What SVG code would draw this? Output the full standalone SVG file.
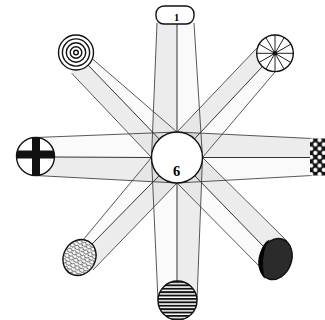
<svg xmlns="http://www.w3.org/2000/svg" width="325" height="320" viewBox="0 0 325 320">
<style>
.edge{stroke:#3a3a3a;stroke-width:0.85;fill:none}
.axis{stroke:#333;stroke-width:1;fill:none}
.sh{fill:#000;fill-opacity:0.075}
.lt{fill:#000;fill-opacity:0.018}
.node{stroke:#111;stroke-width:1.4}
.lbl{font-family:"Liberation Serif",serif;text-anchor:middle}
</style>
<defs>
<pattern id="stripes" width="4" height="3.4" patternUnits="userSpaceOnUse" y="281"><rect width="4" height="1.9" fill="#111"/></pattern>
<pattern id="dots" width="8.5" height="8.5" patternUnits="userSpaceOnUse" x="309" y="138"><rect width="8.5" height="8.5" fill="#111"/><circle cx="2.1" cy="2.1" r="2.1" fill="#fff"/><circle cx="6.35" cy="6.35" r="2.1" fill="#fff"/></pattern>
<pattern id="scales" width="5" height="6" patternUnits="userSpaceOnUse"><rect width="5" height="6" fill="#fff"/><path d="M0,3 Q2.5,0 5,3 M-2.5,6 Q0,3 2.5,6 M2.5,6 Q5,3 7.5,6" stroke="#111" stroke-width="0.8" fill="none"/></pattern>
<clipPath id="crossClip"><circle cx="35.5" cy="156.5" r="19"/></clipPath>
<clipPath id="wheelClip"><circle cx="275" cy="53.3" r="18.3"/></clipPath>
</defs>

<g id="connectors">
<polygon class="sh" points="157,23 177,23 177,157.5 151.5,157.5"/>
<polygon class="lt" points="194,23 177,23 177,157.5 202.5,157.5"/>
<polygon class="sh" points="197,300.5 177.5,300.5 177,157.5 202.5,157.5"/>
<polygon class="lt" points="158,300.5 177.5,300.5 177,157.5 151.5,157.5"/>
<polygon class="sh" points="35.5,175.5 35.5,156.5 177,157.5 177,183"/>
<polygon class="lt" points="35.5,137.5 35.5,156.5 177,157.5 177,132"/>
<polygon class="sh" points="312,138.5 312,157.5 177,157.5 177,132"/>
<polygon class="lt" points="312,175.5 312,157.5 177,157.5 177,183"/>
<polygon class="sh" points="71.7,73.3 76,52.5 177,157.5 151.5,157.5"/>
<polygon class="lt" points="91.7,58.3 76,52.5 177,157.5 177,132"/>
<polygon class="sh" points="256.7,48.3 275,53.3 177,157.5 177,132"/>
<polygon class="lt" points="276.7,70 275,53.3 177,157.5 202.5,157.5"/>
<polygon class="sh" points="93,270 79.5,257.5 177,157.5 177,183"/>
<polygon class="lt" points="83,240 79.5,257.5 177,157.5 151.5,157.5"/>
<polygon class="sh" points="287,241 275.5,259 177,157.5 202.5,157.5"/>
<polygon class="lt" points="264,271 275.5,259 177,157.5 177,183"/>
<path class="edge" d="M157,23 L151.5,157.5 M194,23 L202.5,157.5"/>
<path class="edge" d="M158,300.5 L151.5,157.5 M197,300.5 L202.5,157.5"/>
<path class="edge" d="M35.5,137.5 L177,132 M35.5,175.5 L177,183"/>
<path class="edge" d="M312,138.5 L177,132 M312,175.5 L177,183"/>
<path class="edge" d="M71.7,73.3 L151.5,157.5 M91.7,58.3 L177,132"/>
<path class="edge" d="M256.7,48.3 L177,132 M276.7,70 L202.5,157.5"/>
<path class="edge" d="M93,270 L177,183 M83,240 L151.5,157.5"/>
<path class="edge" d="M287,241 L202.5,157.5 M264,271 L177,183"/>
<path class="axis" d="M177,22 L177,132 M177,281 L177,183 M54.5,157 L151.5,157.5 M202.5,157.5 L312,157.5"/>
<path class="axis" d="M88.1,65.1 L159.3,139.1 M262.4,66.6 L194.5,138.9 M91,245 L159.1,175.7 M263.5,246.5 L194.8,175.8"/>
</g>

<g id="center">
<circle class="node" cx="177" cy="157.5" r="25.5" fill="#fff"/>
<text class="lbl" x="176.5" y="175.5" font-size="14.5" font-weight="bold" fill="#000">6</text>
</g>

<g id="node-top">
<rect class="node" x="156" y="6" width="38" height="18" rx="8" fill="#fff"/>
<text class="lbl" x="176.7" y="20.7" font-size="10.5" font-weight="bold" fill="#000">1</text>
</g>

<g id="node-topleft">
<circle class="node" cx="76" cy="52.5" r="17.5" fill="#fff"/>
<circle class="node" cx="76" cy="52.5" r="13.6" fill="none" stroke-width="1.2"/>
<circle class="node" cx="76" cy="52.5" r="9.7" fill="none" stroke-width="1.2"/>
<circle class="node" cx="76" cy="52.5" r="5.8" fill="none" stroke-width="1.2"/>
<circle class="node" cx="76" cy="52.5" r="2.3" fill="none" stroke-width="1.1"/>
</g>

<g id="node-topright">
<circle cx="275" cy="53.3" r="18.3" fill="#fff"/>
<g clip-path="url(#wheelClip)" stroke="#222" stroke-width="1">
<line x1="255" y1="53.3" x2="295" y2="53.3"/>
<line x1="275" y1="33" x2="275" y2="74"/>
<line x1="257.7" y1="43.3" x2="292.3" y2="63.3"/>
<line x1="257.7" y1="63.3" x2="292.3" y2="43.3"/>
<line x1="265" y1="36" x2="285" y2="70.6"/>
<line x1="265" y1="70.6" x2="285" y2="36"/>
</g>
<circle class="node" cx="275" cy="53.3" r="18.3" fill="none"/>
<circle cx="275" cy="53.3" r="2.3" fill="#111"/>
</g>

<g id="node-left">
<circle cx="35.5" cy="156.5" r="19" fill="#fff"/>
<g clip-path="url(#crossClip)" fill="#111">
<rect x="16" y="150.5" width="39" height="8"/>
<rect x="32" y="137" width="8" height="39"/>
</g>
<circle class="node" cx="35.5" cy="156.5" r="19" fill="none"/>
</g>

<g id="node-right">
<rect x="310" y="138.5" width="16" height="37" fill="url(#dots)"/>
</g>

<g id="node-bottomleft">
<ellipse class="node" cx="79.5" cy="257.5" rx="16" ry="18.5" transform="rotate(28 79.5 257.5)" fill="url(#scales)"/>
</g>

<g id="node-bottom">
<circle cx="177.5" cy="300.5" r="19.5" fill="#fff"/>
<circle class="node" cx="177.5" cy="300.5" r="19.5" fill="url(#stripes)"/>
</g>

<g id="node-bottomright">
<ellipse class="node" cx="275.5" cy="259" rx="16" ry="21" transform="rotate(20 275.5 259)" fill="#2b2b2b"/>
<path d="M270,239.5 C258,244 256,270 265,279 C262,268 262,248 270,239.5 Z" fill="#000"/>
</g>
</svg>
